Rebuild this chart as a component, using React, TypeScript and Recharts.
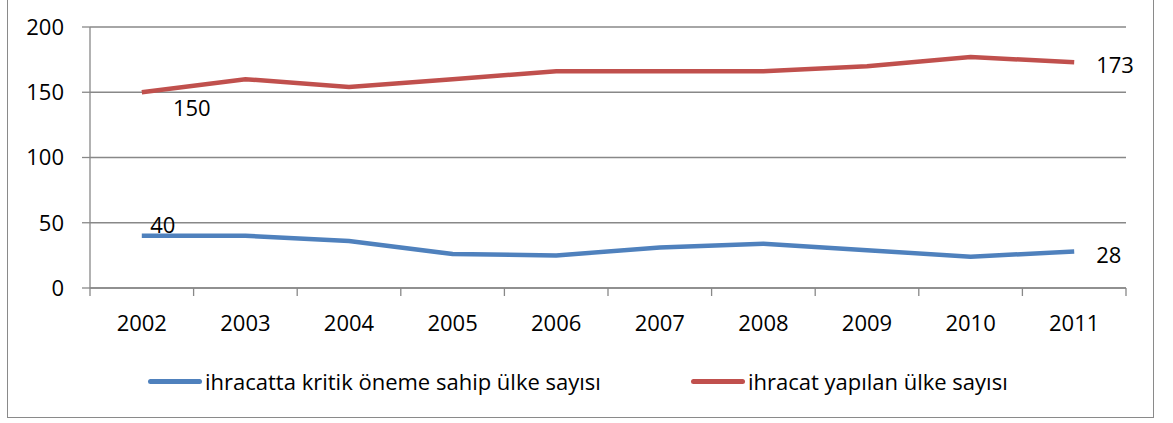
import { CartesianGrid, LabelList, Line, LineChart, XAxis, YAxis } from "recharts"

const YEARS = ["2002", "2003", "2004", "2005", "2006", "2007", "2008", "2009", "2010", "2011"]
const CRITICAL = [40, 40, 36, 26, 25, 31, 34, 29, 24, 28]
const EXPORTED = [150, 160, 154, 160, 166, 166, 166, 170, 177, 173]
const SERIES_NAMES = ["ihracatta kritik öneme sahip ülke sayısı", "ihracat yapılan ülke sayısı"]
const Y_TICKS = [0, 50, 100, 150, 200]

const BLUE = "#4F81BD"
const RED = "#C0504D"
const GRID = "#888888"
const FONT = "'Open Sans', sans-serif"
const FS = 22
const HALF_BAND = 51.8

const data = YEARS.map((year, i) => ({
  year,
  critical: CRITICAL[i],
  exported: EXPORTED[i],
}))

// year label plus tick marks on the category boundaries (Excel style)
const YearTick = (props: any) => {
  const { x, y, payload, index } = props
  const axisY = y - 27
  return (
    <g>
      <line x1={x - HALF_BAND} x2={x - HALF_BAND} y1={axisY} y2={axisY + 8} stroke={GRID} strokeWidth={1.3} />
      {index === YEARS.length - 1 && (
        <line x1={x + HALF_BAND} x2={x + HALF_BAND} y1={axisY} y2={axisY + 8} stroke={GRID} strokeWidth={1.3} />
      )}
      <text x={x} y={y} dy="0.71em" textAnchor="middle" fontSize={FS} fontFamily={FONT} fill="#000">
        {payload.value}
      </text>
    </g>
  )
}

// only the first and last point carry a label, each with its own offset
const edgeLabel = (first: { dx: number; dy: number }, last: { dx: number; dy: number }) =>
  (props: any) => {
    const { x, y, value, index } = props
    let off = null
    if (index === 0) off = first
    else if (index === data.length - 1) off = last
    if (!off) return null
    return (
      <text
        x={x + off.dx}
        y={y + off.dy}
        fontSize={FS}
        fontFamily={FONT}
        fill="#000"
        textAnchor={index === 0 ? "middle" : "start"}
        dominantBaseline="central"
      >
        {value}
      </text>
    )
  }

export default function App() {
  return (
    <div style={{ position: "absolute", left: 0, top: 0, width: 1173, height: 423, background: "#fff" }}>
      <div
        style={{
          position: "absolute",
          left: 7,
          top: -2,
          width: 1147,
          height: 420,
          border: "1.5px solid #8a8a8a",
          boxSizing: "border-box",
        }}
      />
      <LineChart
        width={1173}
        height={423}
        data={data}
        margin={{ top: 27, right: 47, left: 30, bottom: 95 }}
        style={{ position: "absolute", left: 0, top: 0 }}
      >
        <CartesianGrid vertical={false} stroke={GRID} strokeWidth={1.3} />
        <XAxis
          dataKey="year"
          padding={{ left: HALF_BAND, right: HALF_BAND }}
          axisLine={{ stroke: GRID, strokeWidth: 1.3 }}
          tickLine={false}
          tickSize={0}
          tickMargin={27}
          height={40}
          interval={0}
          tick={<YearTick />}
        />
        <YAxis
          domain={[0, 200]}
          ticks={Y_TICKS}
          width={60}
          tickSize={8}
          tickMargin={18}
          axisLine={{ stroke: GRID, strokeWidth: 1.3 }}
          tickLine={{ stroke: GRID, strokeWidth: 1.3 }}
          tick={{ fontSize: FS, fontFamily: FONT, fill: "#000" }}
        />
        <Line
          type="linear"
          dataKey="critical"
          name={SERIES_NAMES[0]}
          stroke={BLUE}
          strokeWidth={4.5}
          dot={false}
          isAnimationActive={false}
        >
          <LabelList dataKey="critical" content={edgeLabel({ dx: 21, dy: -12 }, { dx: 22, dy: 3 })} />
        </Line>
        <Line
          type="linear"
          dataKey="exported"
          name={SERIES_NAMES[1]}
          stroke={RED}
          strokeWidth={4.5}
          dot={false}
          isAnimationActive={false}
        >
          <LabelList dataKey="exported" content={edgeLabel({ dx: 50, dy: 15 }, { dx: 22, dy: 2 })} />
        </Line>
      </LineChart>
      <div
        style={{
          position: "absolute",
          left: 148,
          top: 366,
          display: "flex",
          alignItems: "center",
          fontFamily: FONT,
          fontSize: FS,
          color: "#000",
          whiteSpace: "nowrap",
        }}
      >
        {SERIES_NAMES.map((name, i) => (
          <div key={name} style={{ display: "flex", alignItems: "center", marginRight: i === 0 ? 90 : 0 }}>
            <span
              style={{
                display: "inline-block",
                width: 54,
                height: 5,
                borderRadius: 3,
                background: i === 0 ? BLUE : RED,
                marginRight: 3,
              }}
            />
            <span>{name}</span>
          </div>
        ))}
      </div>
    </div>
  )
}
